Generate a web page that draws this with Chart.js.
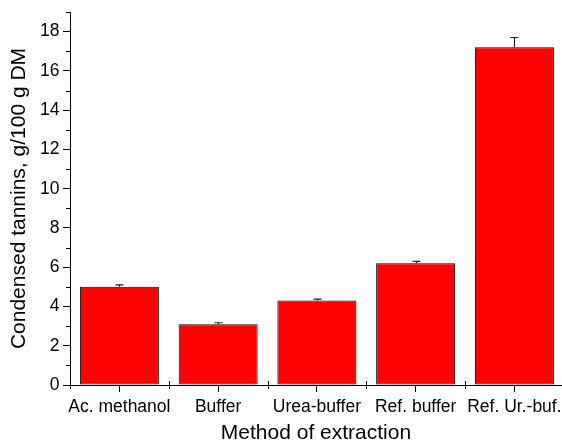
<!DOCTYPE html>
<html>
<head>
<meta charset="utf-8">
<script src="https://cdn.jsdelivr.net/npm/chart.js@4/dist/chart.umd.min.js"></script>
<style>
  html, body { margin: 0; padding: 0; background: #ffffff; }
  #wrap { width: 562px; height: 444px; }
</style>
</head>
<body>
<div id="wrap"><canvas id="chart" width="562" height="444"></canvas></div>
<script>
// Condensed tannin content by extraction method (g/100 g DM), mean and upper error
const methods = ['Ac. methanol', 'Buffer', 'Urea-buffer', 'Ref. buffer', 'Ref. Ur.-buf.'];
const tannins = [5.0, 3.1, 4.3, 6.2, 17.2];
const tanninErrors = [0.1, 0.07, 0.07, 0.1, 0.5];
const yTickValues = [0, 2, 4, 6, 8, 10, 12, 14, 16, 18];

const FONT = "'Liberation Sans', Arial, Helvetica, sans-serif";

// Upper error bars with a short cap, drawn on top of each bar
const errorBars = {
  id: 'errorBars',
  afterDatasetsDraw(chart) {
    const ctx = chart.ctx;
    const yScale = chart.scales.y;
    const meta = chart.getDatasetMeta(0);
    ctx.save();
    ctx.strokeStyle = '#222222';
    ctx.lineWidth = 1.2;
    meta.data.forEach((bar, i) => {
      const x = Math.round(bar.x) + 0.5;
      const yTop = yScale.getPixelForValue(tannins[i] + tanninErrors[i]);
      const yBar = yScale.getPixelForValue(tannins[i]);
      ctx.beginPath();
      ctx.moveTo(x, yBar);
      ctx.lineTo(x, yTop);
      ctx.moveTo(x - 4, yTop);
      ctx.lineTo(x + 4, yTop);
      ctx.stroke();
    });
    ctx.restore();
  }
};

// Minor ticks: odd values on the value axis, category boundaries on the x axis
const minorTicks = {
  id: 'minorTicks',
  afterDraw(chart) {
    const ctx = chart.ctx;
    const x = chart.scales.x, y = chart.scales.y;
    const area = chart.chartArea;
    ctx.save();
    ctx.strokeStyle = '#000000';
    ctx.lineWidth = 1;
    ctx.beginPath();
    for (let v = 1; v <= y.max + 1e-9; v += 2) {
      const py = Math.round(y.getPixelForValue(v)) + 0.5;
      ctx.moveTo(area.left - 4, py);
      ctx.lineTo(area.left, py);
    }
    for (let v = x.min; v <= x.max + 1e-9; v += 1) {
      const px = Math.round(x.getPixelForValue(v)) + 0.5;
      ctx.moveTo(px, area.bottom - 4);
      ctx.lineTo(px, area.bottom + 4);
    }
    ctx.stroke();
    ctx.restore();
  }
};

new Chart(document.getElementById('chart'), {
  type: 'bar',
  data: {
    datasets: [{
      data: tannins.map((v, i) => ({ x: i, y: v })),
      backgroundColor: '#ff0000',
      borderColor: '#000000',
      borderWidth: 1,
      borderSkipped: false,
      barPercentage: 0.8,
      categoryPercentage: 1.0
    }]
  },
  options: {
    responsive: false,
    animation: false,
    layout: { padding: { top: 12, right: 0, bottom: 0, left: 0 } },
    plugins: {
      legend: { display: false },
      tooltip: { enabled: false }
    },
    scales: {
      x: {
        type: 'linear',
        min: -0.5,
        max: 4.482,
        offset: false,
        afterBuildTicks(scale) {
          scale.ticks = methods.map((_, i) => ({ value: i }));
        },
        afterFit(scale) {
          scale.height = 59;
          scale.paddingLeft = 0;
          scale.paddingRight = 0;
        },
        grid: {
          offset: false,
          drawOnChartArea: false,
          drawTicks: true,
          tickLength: 7,
          color: '#000000',
          lineWidth: 1
        },
        border: { display: true, color: '#000000', width: 1 },
        ticks: {
          autoSkip: false,
          maxRotation: 0,
          padding: 4.5,
          color: '#000000',
          font: { family: FONT, size: 17.5 },
          callback: (v) => methods[v]
        },
        title: {
          display: true,
          text: 'Method of extraction',
          color: '#000000',
          font: { family: FONT, size: 21, lineHeight: 1 },
          padding: { top: 0, bottom: 0 }
        }
      },
      y: {
        type: 'linear',
        min: 0,
        max: 19,
        afterBuildTicks(scale) {
          scale.ticks = yTickValues.map(v => ({ value: v }));
        },
        afterFit(scale) {
          scale.width = 70;
          scale.paddingTop = 0;
          scale.paddingBottom = 0;
        },
        grid: {
          drawOnChartArea: false,
          drawTicks: true,
          tickLength: 7,
          color: '#000000',
          lineWidth: 1
        },
        border: { display: true, color: '#000000', width: 1 },
        ticks: {
          padding: 3.5,
          color: '#000000',
          font: { family: FONT, size: 17.5 }
        },
        title: {
          display: true,
          text: 'Condensed tannins, g/100 g DM',
          color: '#000000',
          font: { family: FONT, size: 21, lineHeight: 1 },
          padding: { top: 9, bottom: 0 }
        }
      }
    }
  },
  plugins: [errorBars, minorTicks]
});
</script>
</body>
</html>
